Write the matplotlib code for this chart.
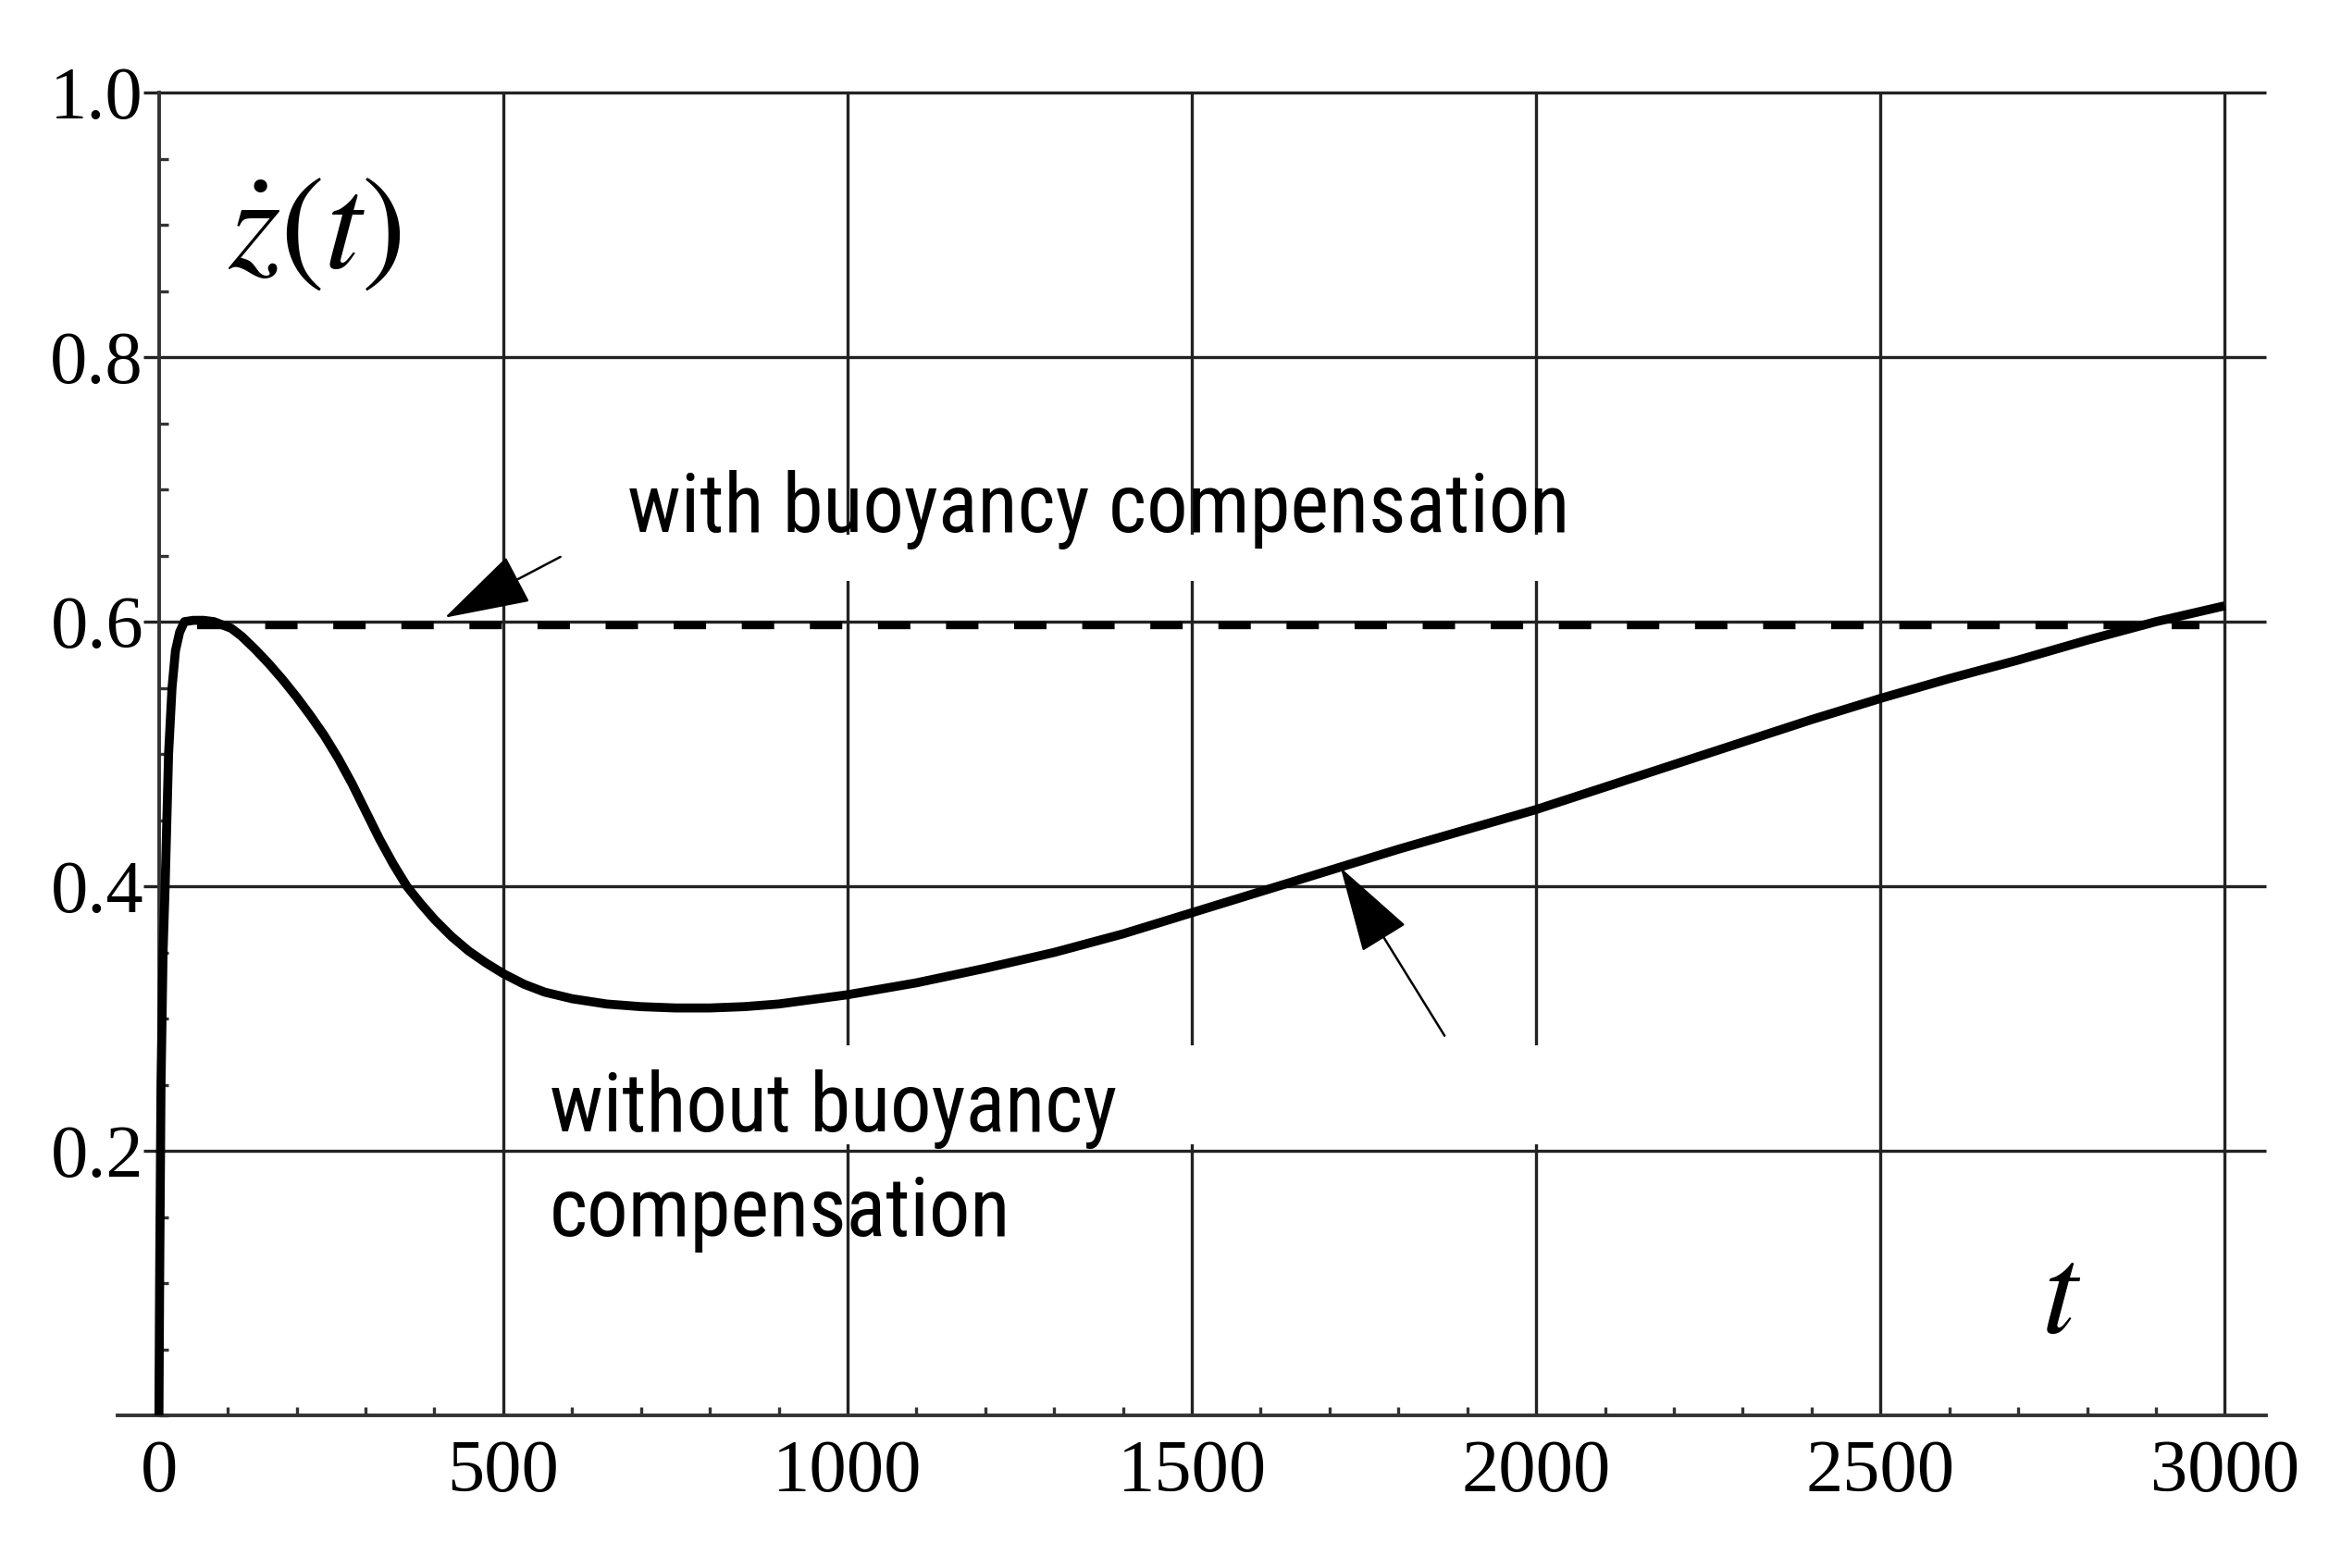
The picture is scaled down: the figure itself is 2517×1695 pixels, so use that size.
import matplotlib.pyplot as plt
from matplotlib import font_manager
from matplotlib.patches import Rectangle
from matplotlib.ticker import MultipleLocator

plt.rcParams['mathtext.fontset'] = 'stix'

# curve without buoyancy compensation
t_without = [0, 1, 3, 6, 9, 14, 19, 24, 30, 37, 50, 65, 80, 90, 105, 120, 140,
             160, 180, 200, 220, 240, 260, 280, 300, 320, 340, 360, 380, 400,
             425, 450, 475, 500, 530, 560, 600, 650, 700, 750, 800, 850, 900,
             1000, 1100, 1200, 1300, 1400, 1500, 1600, 1700, 1800, 1900, 2000,
             2100, 2200, 2300, 2400, 2500, 2600, 2700, 2800, 2900, 3000]
z_without = [0, 0.10, 0.25, 0.35, 0.40, 0.50, 0.55, 0.578, 0.592, 0.600, 0.601,
             0.601, 0.600, 0.598, 0.595, 0.589, 0.579, 0.568, 0.556, 0.543,
             0.529, 0.514, 0.497, 0.478, 0.457, 0.436, 0.417, 0.400, 0.387,
             0.375, 0.362, 0.351, 0.342, 0.334, 0.326, 0.320, 0.315, 0.311,
             0.309, 0.308, 0.308, 0.309, 0.311, 0.318, 0.327, 0.338, 0.350,
             0.364, 0.380, 0.396, 0.412, 0.428, 0.443, 0.458, 0.475, 0.492,
             0.509, 0.526, 0.542, 0.557, 0.571, 0.586, 0.600, 0.612]

# curve with buoyancy compensation (flat)
t_with = [56, 2963]
z_with = [0.597, 0.597]

x_ticks = [0, 500, 1000, 1500, 2000, 2500, 3000]
y_ticks = [0.2, 0.4, 0.6, 0.8, 1.0]

# pick a narrow sans if one is installed
installed = {f.name for f in font_manager.fontManager.ttflist}
sans, sans_size = 'Liberation Sans', 30
for name, size in [('Liberation Sans Narrow', 35), ('Arial Narrow', 35),
                   ('Roboto Condensed', 32)]:
    if name in installed:
        sans, sans_size = name, size
        break
serif = 'Liberation Serif'

fig = plt.figure(figsize=(12.585, 8.475), dpi=200)
ax = fig.add_axes([0.0505, 0.0973, 0.9225, 0.8437])
ax.set_xlim(-60, 3060)
ax.set_ylim(0, 1.0)

# grid drawn by hand so it starts at the y axis
gc = '#222222'
ax.vlines(x_ticks[1:], 0, 1.0, colors=gc, lw=1.2, zorder=1)
ax.hlines(y_ticks, 0, 3060, colors=gc, lw=1.2, zorder=1, clip_on=False)

# white bands that hide parts of the grid (as in the original)
ax.add_patch(Rectangle((600, 0.631), 1700, 0.035, fc='white', ec='none', zorder=1.5))
ax.add_patch(Rectangle((600, 0.205), 1700, 0.075, fc='white', ec='none', zorder=1.5))

ax.plot(t_without, z_without, color='black', lw=3.5, solid_joinstyle='round',
        solid_capstyle='butt', zorder=3, clip_on=False)
dash, = ax.plot(t_with, z_with, color='black', lw=3.0, zorder=3)
dash.set_dashes((4.2, 4.63))
dash.set_dash_capstyle('butt')

# spines
for s in ['top', 'right']:
    ax.spines[s].set_visible(False)
ax.spines['left'].set_position(('data', 0))
for s in ['left', 'bottom']:
    ax.spines[s].set_linewidth(1.4)
    ax.spines[s].set_color('#333333')

ax.set_xticks(x_ticks)
ax.set_xticklabels([str(v) for v in x_ticks])
ax.set_yticks(y_ticks)
ax.set_yticklabels(['%.1f' % v for v in y_ticks])
ax.xaxis.set_minor_locator(MultipleLocator(100))
ax.yaxis.set_minor_locator(MultipleLocator(0.05))
ax.tick_params(axis='x', which='major', direction='in', length=0, pad=9.5,
               labelsize=29)
ax.tick_params(axis='x', which='minor', direction='in', length=3.3, width=1.2,
               color='#333333')
ax.tick_params(axis='y', which='major', direction='out', length=6, width=1.2,
               pad=0, labelsize=29, color=gc)
ax.tick_params(axis='y', which='minor', direction='in', length=3.5, width=1.2,
               color='#333333')
for lab in ax.get_xticklabels() + ax.get_yticklabels():
    lab.set_fontfamily(serif)

# annotations
ax.text(680, 0.668, 'with buoyancy compensation', family=sans, fontsize=sans_size,
        va='baseline', ha='left', zorder=4)
ax.text(567, 0.215, 'without buoyancy', family=sans, fontsize=sans_size,
        va='baseline', ha='left', zorder=4)
ax.text(567, 0.136, 'compensation', family=sans, fontsize=sans_size,
        va='baseline', ha='left', zorder=4)

arrow = dict(arrowstyle='-|>,head_length=30,head_width=9', color='black',
             lw=0.9, mutation_scale=1, shrinkA=0, shrinkB=0)
ax.annotate('', xy=(415, 0.603), xytext=(583, 0.649), arrowprops=arrow, zorder=4)
ax.annotate('', xy=(1716, 0.414), xytext=(1867, 0.287), arrowprops=arrow, zorder=4)

ax.text(100, 0.868, r'$\dot{z}(t)$', fontsize=52, va='baseline', ha='left')
ax.text(2762, 0.063, r'$t$', fontsize=50, va='baseline', ha='center')

fig.savefig('out.png', dpi=200)
